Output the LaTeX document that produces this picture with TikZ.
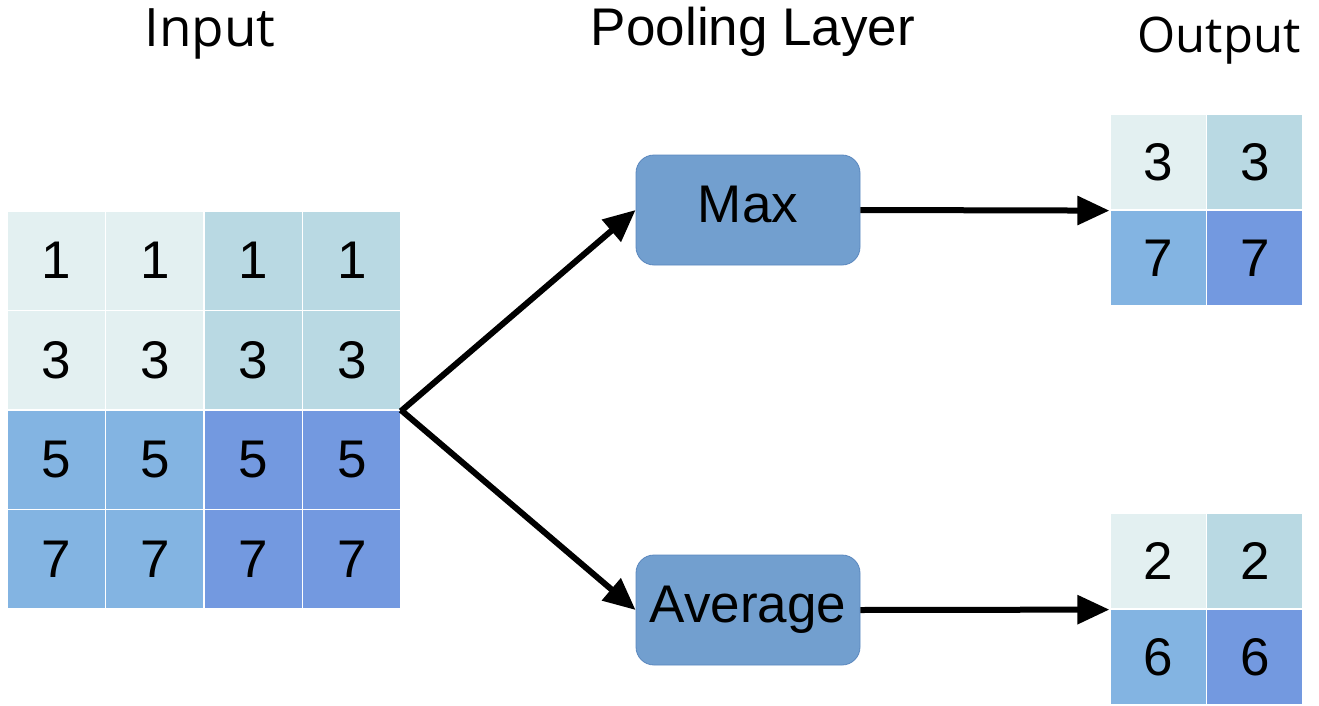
\documentclass[tikz,border=0pt]{standalone}
\usepackage{fontspec}
\setmainfont{Liberation Sans}
\newfontfamily\titlefont{Open Sans}
\usetikzlibrary{arrows.meta}
\definecolor{cA}{HTML}{E3F0F1}
\definecolor{cB}{HTML}{B9D9E3}
\definecolor{cC}{HTML}{83B4E2}
\definecolor{cD}{HTML}{7399E0}
\definecolor{boxfill}{HTML}{729FCF}
\definecolor{boxline}{HTML}{5A87BE}
\begin{document}
\begin{tikzpicture}[x=1pt,y=-1pt,
  txt/.style={font=\fontsize{53}{60}\selectfont, inner sep=0pt},
  cell/.style={draw=white, line width=1.2pt, inner sep=0pt, font=\fontsize{53}{60}\selectfont},
  incell/.style={cell, minimum width=98.5pt, minimum height=99.5pt},
  outcell/.style={cell, minimum width=96.5pt, minimum height=96pt},
  opbox/.style={draw=boxline, line width=0.8pt, fill=boxfill, rounded corners=18pt,
    minimum width=224pt, minimum height=110pt, inner sep=0pt,
    font=\fontsize{53}{60}\selectfont, text height=38pt, text depth=13pt},
  conn/.style={line width=6pt, -{Triangle[length=32pt,width=28pt]}}]
\useasboundingbox (0,0) rectangle (1319,706);
% titles
\node[txt, anchor=base, font=\titlefont\fontsize{53}{60}\selectfont] (tin) at (210,47) {Input};
\node[txt, anchor=base] (tpool) at (753,46) {Pooling Layer};
\node[txt, anchor=base, font=\titlefont\fontsize{49}{60}\selectfont] (tout) at (1219,53) {Output};
% input grid
\foreach \r/\v/\ca/\cb in {1/1/cA/cB, 2/3/cA/cB, 3/5/cC/cD, 4/7/cC/cD}{
  \foreach \c in {1,2,3,4}{
    \pgfmathsetmacro{\xx}{7+98.5*(\c-0.5)}
    \pgfmathsetmacro{\yy}{211+99.5*(\r-0.5)}
    \ifnum\c<3
      \node[incell, fill=\ca] (i\r\c) at (\xx,\yy) {\v};
    \else
      \node[incell, fill=\cb] (i\r\c) at (\xx,\yy) {\v};
    \fi
  }
}
% boxes
\node[opbox] (max) at (748,210) {Max};
\node[opbox] (avg) at (748,610) {Average};
% output grids
\node[outcell, fill=cA] (m11) at (1158.25,162) {3};
\node[outcell, fill=cB] (m12) at (1254.75,162) {3};
\node[outcell, fill=cC] (m21) at (1158.25,258) {7};
\node[outcell, fill=cD] (m22) at (1254.75,258) {7};
\node[outcell, fill=cA] (a11) at (1158.25,561) {2};
\node[outcell, fill=cB] (a12) at (1254.75,561) {2};
\node[outcell, fill=cC] (a21) at (1158.25,657) {6};
\node[outcell, fill=cD] (a22) at (1254.75,657) {6};
% connectors
\coordinate (split) at (i24.south east);
\draw[conn, shorten <=-1pt] (split) -- (max.west);
\draw[conn, shorten <=-1pt] (split) -- (avg.west);
\draw[conn] (max.east) -- (m11.south west);
\draw[conn] (avg.east) -- (a11.south west);
\end{tikzpicture}
\end{document}
